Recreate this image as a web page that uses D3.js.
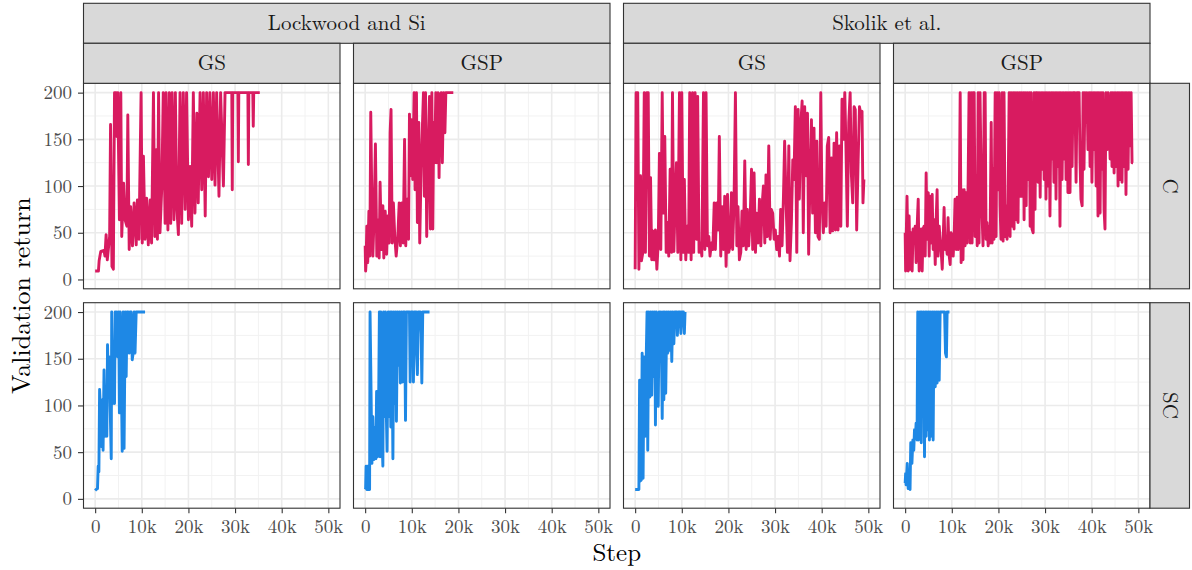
<!DOCTYPE html>
<html>
<head>
<meta charset="utf-8">
<script src="https://cdn.jsdelivr.net/npm/d3@7"></script>
<style>
  body { margin: 0; background: #fff; }
</style>
</head>
<body>
<script>
// ---- data (step in thousands, validation return) ----
var sources = ['Lockwood and Si', 'Skolik et al.']
var methods = ['GS', 'GSP']
var envs = ['C', 'SC']
var envColors = ['#D81B60', '#1E88E5']
var xTicks = [0, 10, 20, 30, 40, 50]
var xMinor = [5, 15, 25, 35, 45]
var yTicks = [0, 50, 100, 150, 200]
var yMinor = [25, 75, 125, 175]

var lwGS_C = [[0,9],[0.7,9],[0.85,20],[1.2,30],[1.9,31],[2.1,25],[2.35,48],[2.6,21],[3.1,46],[3.3,166],[3.6,14],[3.9,11],[4.15,200],[4.5,200],[4.65,153],[4.85,200],[5.2,64],[5.5,200],[5.7,46],[6.1,103],[6.4,64],[6.8,57],[7.0,176],[7.3,32],[7.6,78],[8.0,36],[8.35,82],[8.8,37],[9.05,85],[9.4,43],[9.85,200],[10.1,39],[10.35,132],[10.7,43],[11.05,87],[11.4,37],[11.8,85],[12.1,39],[12.5,200],[12.8,46],[13.1,139],[13.35,43],[13.6,200],[13.9,50],[14.3,100],[14.6,200],[15.0,60],[15.2,200],[15.6,53],[15.9,200],[16.2,60],[16.5,200],[16.9,64],[17.2,200],[17.5,78],[17.85,48],[18.2,200],[18.55,60],[18.9,200],[19.3,75],[19.6,200],[20.0,64],[20.35,121],[20.7,57],[21.05,200],[21.4,71],[21.8,178],[22.1,82],[22.5,200],[22.85,96],[23.2,200],[23.6,68],[23.9,200],[24.3,110],[24.6,200],[25.0,107],[25.35,200],[25.7,101],[26.05,200],[26.55,89],[26.9,200],[27.5,100],[27.85,200],[29.3,200],[29.4,96],[29.5,200],[30.6,200],[30.7,126],[30.8,200],[32.75,200],[32.85,123],[32.95,200],[33.8,200],[33.9,164],[34.0,200],[35.3,200]]

var lwGSP_C = [[0,36],[0.1,9],[0.2,18],[0.35,57],[0.55,18],[0.8,73],[1.0,25],[1.2,179],[1.45,79],[1.65,25],[1.9,64],[2.2,145],[2.5,25],[2.7,64],[3.0,23],[3.2,104],[3.5,32],[3.8,79],[4.0,23],[4.3,73],[4.6,27],[4.85,68],[5.15,39],[5.35,157],[5.55,182],[5.8,39],[6.05,82],[6.35,46],[6.65,25],[7.0,46],[7.3,82],[7.55,36],[7.85,82],[8.15,39],[8.45,150],[8.7,36],[9.0,86],[9.3,43],[9.5,177],[9.7,111],[10.0,171],[10.2,107],[10.5,200],[10.7,96],[11.0,200],[11.2,61],[11.5,168],[11.7,39],[12.0,118],[12.3,168],[12.5,200],[12.7,89],[12.95,200],[13.2,46],[13.5,132],[13.8,196],[14.0,54],[14.3,200],[14.5,54],[14.7,168],[14.9,125],[15.15,200],[15.35,125],[15.65,200],[15.85,109],[16.05,196],[16.3,200],[16.55,125],[16.8,200],[17.1,157],[17.3,200],[18.9,200]]

var skGS_C = [[0,11],[0.2,200],[0.55,200],[0.8,11],[1.15,111],[1.35,20],[1.65,29],[1.95,200],[2.2,29],[2.5,200],[2.8,200],[3.05,25],[3.3,109],[3.55,21],[3.8,52],[4.05,21],[4.35,53],[4.65,11],[4.95,39],[5.2,135],[5.5,32],[5.8,200],[6.05,71],[6.35,153],[6.65,29],[6.95,61],[7.2,25],[7.5,118],[7.8,29],[8.0,200],[8.3,30],[8.55,78],[8.85,125],[9.15,29],[9.5,200],[9.8,21],[10.0,200],[10.3,29],[10.55,107],[10.85,21],[11.15,57],[11.45,29],[11.7,200],[12.0,21],[12.3,200],[12.55,29],[12.85,200],[13.15,43],[13.4,196],[13.7,29],[14.0,39],[14.3,25],[14.65,200],[14.95,32],[15.2,200],[15.5,36],[15.8,46],[16.05,25],[16.35,39],[16.65,32],[16.95,82],[17.2,32],[17.5,82],[17.8,53],[18.05,153],[18.35,25],[18.65,78],[18.95,32],[19.2,89],[19.5,14],[19.8,91],[20.05,29],[20.35,36],[20.65,93],[20.9,32],[21.2,82],[21.5,200],[21.8,36],[22.05,78],[22.35,21],[22.65,29],[22.9,73],[23.2,36],[23.5,127],[23.8,32],[24.05,75],[24.35,36],[24.65,64],[24.95,118],[25.2,32],[25.5,114],[25.8,29],[26.05,71],[26.35,39],[26.65,86],[26.95,36],[27.2,78],[27.5,100],[27.8,39],[28.05,112],[28.35,46],[28.65,143],[28.95,43],[29.2,75],[29.5,71],[29.8,43],[30.05,53],[30.35,32],[30.65,46],[30.95,25],[31.2,75],[31.5,36],[31.8,89],[32.05,148],[32.35,86],[32.65,29],[32.95,143],[33.2,20],[33.5,61],[33.8,128],[34.05,107],[34.35,185],[34.65,29],[34.95,182],[35.2,86],[35.5,164],[35.8,191],[36.05,50],[36.35,185],[36.65,111],[36.95,178],[37.2,27],[37.5,111],[37.8,171],[38.05,71],[38.35,162],[38.65,50],[38.95,148],[39.2,46],[39.5,43],[39.8,200],[40.05,86],[40.35,50],[40.65,82],[40.95,57],[41.2,143],[41.5,152],[41.8,50],[42.1,130],[42.35,52],[42.65,146],[42.95,53],[43.2,157],[43.5,53],[43.8,143],[44.1,57],[44.35,193],[44.65,150],[44.95,200],[45.2,143],[45.5,57],[45.8,168],[46.1,200],[46.35,114],[46.65,82],[46.95,185],[47.2,182],[47.5,53],[47.8,125],[48.1,185],[48.35,178],[48.65,180],[48.85,82],[49.05,107]]

var skGSP_C = [[0,50],[0.1,9],[0.2,39],[0.4,89],[0.65,9],[0.85,68],[1.05,11],[1.3,50],[1.5,9],[1.7,54],[1.95,39],[2.15,57],[2.35,18],[2.55,54],[2.8,86],[3.0,9],[3.2,43],[3.45,54],[3.65,9],[3.85,54],[4.05,57],[4.3,25],[4.5,114],[4.7,43],[4.95,93],[5.15,25],[5.35,89],[5.55,39],[5.8,91],[6.0,32],[6.2,64],[6.45,16],[6.65,64],[6.85,96],[7.05,25],[7.3,57],[7.5,43],[7.7,32],[7.95,11],[8.15,43],[8.35,77],[8.55,32],[8.8,39],[9.0,27],[9.2,66],[9.45,25],[9.65,16],[9.85,50],[10.05,46],[10.3,25],[10.5,46],[10.7,86],[10.95,32],[11.15,88],[11.35,32],[11.55,46],[11.8,200],[12.0,18],[12.2,96],[12.4,21],[12.65,96],[12.85,36],[13.05,93],[13.3,39],[13.5,104],[13.7,200],[13.95,39],[14.15,200],[14.35,39],[14.55,200],[14.8,200],[15.0,46],[15.2,111],[15.45,36],[15.65,200],[15.85,39],[16.05,200],[16.3,107],[16.5,68],[16.7,36],[16.95,200],[17.15,200],[17.35,43],[17.55,61],[17.8,36],[18.0,57],[18.2,39],[18.45,168],[18.65,39],[18.85,118],[19.05,43],[19.3,200],[19.5,46],[19.7,200],[19.95,96],[20.15,200],[20.35,79],[20.55,43],[20.8,200],[21.0,41],[21.2,200],[21.45,46],[21.65,79],[21.85,43],[22.05,79],[22.3,200],[22.5,46],[22.7,200],[22.95,57],[23.15,200],[23.35,54],[23.55,200],[23.8,64],[24.0,200],[24.2,61],[24.45,200],[24.65,89],[24.85,200],[25.05,89],[25.3,200],[25.5,64],[25.7,200],[25.95,79],[26.15,200],[26.35,107],[26.6,200],[26.8,57],[27.0,200],[27.2,54],[27.45,50],[27.65,200],[27.85,75],[28.05,200],[28.3,200],[28.5,104],[28.7,200],[28.95,88],[29.15,200],[29.35,118],[29.55,200],[29.8,107],[30.0,200],[30.2,86],[30.4,200],[30.65,100],[30.85,200],[31.05,68],[31.3,200],[31.5,129],[31.7,200],[31.9,104],[32.15,200],[32.35,86],[32.55,200],[32.8,121],[33.0,200],[33.2,57],[33.4,200],[33.65,107],[33.85,200],[34.05,129],[34.3,200],[34.5,107],[34.7,200],[34.9,93],[35.15,200],[35.35,93],[35.55,200],[35.8,121],[36.0,200],[36.4,200],[36.65,104],[36.85,200],[37.3,200],[37.5,125],[37.7,86],[37.95,79],[38.15,200],[38.35,118],[38.55,200],[38.8,168],[39.0,200],[39.2,139],[39.45,200],[39.65,121],[39.85,200],[40.05,104],[40.3,200],[40.5,139],[40.7,200],[40.95,100],[41.15,200],[41.35,68],[41.55,200],[41.8,71],[42.0,200],[42.2,118],[42.4,200],[42.65,75],[42.85,54],[43.05,200],[43.3,139],[43.5,200],[43.95,129],[44.15,200],[44.35,121],[44.55,200],[44.8,114],[45.0,200],[45.2,121],[45.45,200],[45.65,100],[45.85,200],[46.05,107],[46.3,200],[46.5,104],[46.7,200],[46.95,121],[47.15,200],[47.35,91],[47.55,200],[47.8,118],[48.0,200],[48.2,143],[48.45,200],[48.65,125],[48.85,125]]

var lwGS_SC = [[0,9],[0.2,10],[0.5,11],[0.65,35],[0.8,29],[0.95,117],[1.05,106],[1.3,56],[1.5,106],[1.7,52],[1.9,138],[2.15,67],[2.35,106],[2.5,67],[2.65,165],[2.85,117],[3.05,152],[3.2,102],[3.45,43],[3.55,200],[3.8,102],[3.9,156],[4.15,102],[4.3,200],[4.5,156],[4.65,200],[4.85,152],[5.05,200],[5.2,92],[5.35,200],[5.55,156],[5.8,51],[6.0,200],[6.2,54],[6.45,200],[6.65,131],[6.85,200],[7.05,200],[7.3,156],[7.5,200],[7.7,200],[7.95,149],[8.15,156],[8.35,200],[8.55,156],[8.8,200],[10.7,200]]

var lwGSP_SC = [[0,10],[0.1,11],[0.2,35],[0.35,10],[0.55,35],[0.8,10],[0.95,10],[1.05,200],[1.2,142],[1.45,38],[1.65,88],[1.85,42],[2.05,76],[2.3,43],[2.45,115],[2.65,45],[2.85,77],[3.05,200],[3.2,45],[3.35,200],[3.55,77],[3.8,35],[3.95,200],[4.15,88],[4.35,200],[4.55,88],[4.7,51],[4.95,200],[5.15,88],[5.35,200],[5.5,77],[5.7,200],[5.95,43],[6.15,200],[6.35,102],[6.55,200],[6.7,83],[6.95,200],[7.15,143],[7.35,200],[7.55,124],[7.8,200],[8.0,125],[8.2,200],[8.45,200],[8.65,84],[8.85,200],[9.5,200],[9.65,125],[9.85,200],[10.2,200],[10.35,125],[10.55,200],[10.95,200],[11.05,154],[11.2,133],[11.4,200],[11.8,200],[12.0,177],[12.15,124],[12.35,200],[13.8,200]]

var skGS_SC = [[0,10],[0.35,10],[0.8,10],[0.95,127],[1.05,19],[1.3,20],[1.5,156],[1.7,22],[1.9,152],[2.15,67],[2.35,145],[2.55,200],[2.7,52],[2.9,200],[3.15,109],[3.35,200],[3.55,111],[3.8,200],[4.0,131],[4.2,200],[4.35,79],[4.55,200],[4.8,138],[4.95,99],[5.15,200],[5.35,174],[5.55,200],[5.8,86],[6.0,200],[6.15,106],[6.35,200],[6.55,113],[6.8,200],[7.0,156],[7.2,200],[7.45,159],[7.65,200],[7.85,147],[8.05,200],[8.3,166],[8.5,200],[8.95,200],[9.05,175],[9.3,200],[9.65,200],[9.8,177],[10.0,200],[10.35,200],[10.55,177],[10.7,200]]

var skGSP_SC = [[0,17],[0.1,27],[0.2,15],[0.45,38],[0.65,11],[0.85,31],[1.05,10],[1.2,60],[1.45,38],[1.65,63],[1.85,52],[2.0,74],[2.2,67],[2.35,81],[2.55,63],[2.7,200],[2.85,63],[3.05,81],[3.2,200],[3.45,60],[3.55,200],[3.8,182],[3.95,200],[4.15,45],[4.3,200],[4.5,67],[4.65,200],[4.85,74],[5.0,200],[5.2,63],[5.35,200],[5.55,67],[5.8,200],[6.0,63],[6.2,200],[6.45,120],[6.65,200],[6.85,124],[7.05,200],[7.3,127],[7.5,200],[8.45,200],[8.65,156],[8.85,152],[9.0,200],[9.5,200]]

// series by [env][source][method]
var seriesGrid = [
  [[lwGS_C, lwGSP_C], [skGS_C, skGSP_C]],
  [[lwGS_SC, lwGSP_SC], [skGS_SC, skGSP_SC]]
]

// ---- layout ----
var W = 1192, H = 570
var colX = [83.5, 353.5, 623.5, 893.5]
var pw = 256.5
var rowY = [83.3, 302.7]
var ph = 205.5
var stripH = 40
var rightStripW = 39.5
var serif = "'Latin Modern Roman', 'Liberation Serif', serif"

var svg = d3.select('body').append('svg')
    .attr('width', W)
    .attr('height', H)
    .attr('font-family', serif)
    .style('background', '#fff')

var xScale = d3.scaleLinear().domain([-2.5, 52.5]).range([0, pw])
var yScale = d3.scaleLinear().domain([-10, 210]).range([ph, 0])

var line = d3.line()
    .x(function (d) { return xScale(d[0]) })
    .y(function (d) { return yScale(d[1]) })

// panels
envs.forEach(function (env, r) {
  sources.forEach(function (src, s) {
    methods.forEach(function (m, k) {
      var c = s * 2 + k
      var g = svg.append('g')
          .attr('transform', 'translate(' + colX[c] + ',' + rowY[r] + ')')
      g.append('rect')
          .attr('width', pw).attr('height', ph)
          .attr('fill', '#fff')
      // minor grid
      g.selectAll('.vminor').data(xMinor).enter().append('line')
          .attr('x1', function (d) { return xScale(d) }).attr('x2', function (d) { return xScale(d) })
          .attr('y1', 0).attr('y2', ph)
          .attr('stroke', '#f2f2f2').attr('stroke-width', 1)
      g.selectAll('.hminor').data(yMinor).enter().append('line')
          .attr('y1', function (d) { return yScale(d) }).attr('y2', function (d) { return yScale(d) })
          .attr('x1', 0).attr('x2', pw)
          .attr('stroke', '#f2f2f2').attr('stroke-width', 1)
      // major grid
      g.selectAll('.vmajor').data(xTicks).enter().append('line')
          .attr('x1', function (d) { return xScale(d) }).attr('x2', function (d) { return xScale(d) })
          .attr('y1', 0).attr('y2', ph)
          .attr('stroke', '#ebebeb').attr('stroke-width', 1.6)
      g.selectAll('.hmajor').data(yTicks).enter().append('line')
          .attr('y1', function (d) { return yScale(d) }).attr('y2', function (d) { return yScale(d) })
          .attr('x1', 0).attr('x2', pw)
          .attr('stroke', '#ebebeb').attr('stroke-width', 1.6)
      // series line
      g.append('path')
          .datum(seriesGrid[r][s][k])
          .attr('d', line)
          .attr('fill', 'none')
          .attr('stroke', envColors[r])
          .attr('stroke-width', 2.9)
          .attr('stroke-linejoin', 'round')
      g.append('rect')
          .attr('width', pw).attr('height', ph)
          .attr('fill', 'none')
          .attr('stroke', '#333').attr('stroke-width', 1.1)
    })
  })
})

// top strips: source
sources.forEach(function (src, s) {
  var x0 = colX[s * 2], x1 = colX[s * 2 + 1] + pw
  svg.append('rect')
      .attr('x', x0).attr('y', rowY[0] - 2 * stripH)
      .attr('width', x1 - x0).attr('height', stripH)
      .attr('fill', '#d9d9d9').attr('stroke', '#333').attr('stroke-width', 1.1)
  svg.append('text')
      .attr('x', (x0 + x1) / 2).attr('y', rowY[0] - 1.5 * stripH)
      .attr('dy', '0.34em')
      .attr('text-anchor', 'middle')
      .attr('font-size', 21).attr('fill', '#1a1a1a')
      .text(src)
  methods.forEach(function (m, k) {
    var c = s * 2 + k
    svg.append('rect')
        .attr('x', colX[c]).attr('y', rowY[0] - stripH)
        .attr('width', pw).attr('height', stripH)
        .attr('fill', '#d9d9d9').attr('stroke', '#333').attr('stroke-width', 1.1)
    svg.append('text')
        .attr('x', colX[c] + pw / 2).attr('y', rowY[0] - stripH / 2)
        .attr('dy', '0.34em')
        .attr('text-anchor', 'middle')
        .attr('font-size', 21).attr('fill', '#1a1a1a')
        .text(m)
  })
})

// right strips: env
envs.forEach(function (env, r) {
  var x0 = colX[3] + pw
  svg.append('rect')
      .attr('x', x0).attr('y', rowY[r])
      .attr('width', rightStripW).attr('height', ph)
      .attr('fill', '#d9d9d9').attr('stroke', '#333').attr('stroke-width', 1.1)
  svg.append('text')
      .attr('transform', 'translate(' + (x0 + rightStripW / 2) + ',' + (rowY[r] + ph / 2) + ') rotate(90)')
      .attr('dy', '0.34em')
      .attr('text-anchor', 'middle')
      .attr('font-size', 21).attr('fill', '#1a1a1a')
      .text(env)
})

// axes
function styleAxis(sel) {
  sel.attr('font-family', serif).attr('font-size', 19)
  sel.select('.domain').remove()
  sel.selectAll('.tick line').attr('stroke', '#333').attr('stroke-width', 1.1)
  sel.selectAll('.tick text').attr('fill', '#4d4d4d')
}

rowY.forEach(function (y0) {
  svg.append('g')
      .attr('transform', 'translate(' + colX[0] + ',' + y0 + ')')
      .call(d3.axisLeft(yScale).tickValues(yTicks).tickSize(5.5).tickPadding(6))
      .call(styleAxis)
})

colX.forEach(function (x0) {
  svg.append('g')
      .attr('transform', 'translate(' + x0 + ',' + (rowY[1] + ph) + ')')
      .call(d3.axisBottom(xScale).tickValues(xTicks).tickSize(5).tickPadding(6)
        .tickFormat(function (d) { return d === 0 ? '0' : d + 'k' }))
      .call(styleAxis)
})

// axis titles
svg.append('text')
    .attr('transform', 'translate(30,' + ((rowY[0] + rowY[1] + ph) / 2) + ') rotate(-90)')
    .attr('text-anchor', 'middle')
    .attr('font-size', 26).attr('fill', '#000')
    .text('Validation return')

svg.append('text')
    .attr('x', (colX[0] + colX[3] + pw) / 2).attr('y', 561)
    .attr('text-anchor', 'middle')
    .attr('font-size', 25).attr('fill', '#000')
    .text('Step')
</script>
</body>
</html>
